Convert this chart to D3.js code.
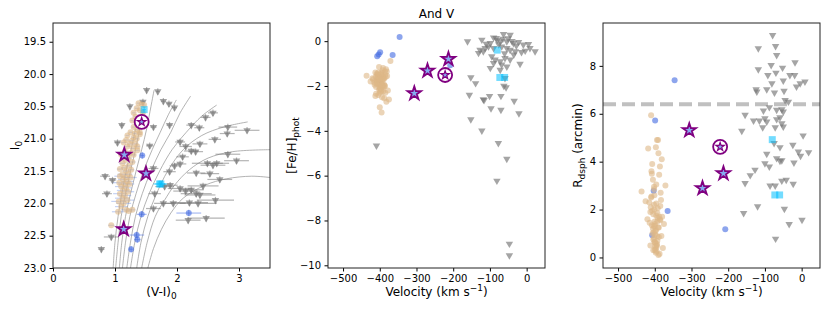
<!DOCTYPE html>
<html>
<head>
<meta charset="utf-8">
<script src="https://cdn.jsdelivr.net/npm/d3@7"></script>
<style>
  body { margin: 0; background: #fff; }
  svg { display: block; font-family: "DejaVu Sans", sans-serif; }
</style>
</head>
<body>
<div id="chart"></div>
<script>
// ---- CMD panel data: [V-I, I, xerr] ----
const isochrones = [
  [[0.97,23],[1.00,22.6],[1.05,22.2],[1.11,21.85],[1.18,21.5],[1.26,21.17],[1.33,20.85]],
  [[1.01,23],[1.05,22.6],[1.10,22.2],[1.17,21.85],[1.25,21.5],[1.33,21.17],[1.40,20.85],[1.46,20.55]],
  [[1.07,23],[1.11,22.6],[1.17,22.2],[1.25,21.85],[1.34,21.5],[1.43,21.17],[1.51,20.85],[1.58,20.5],[1.63,20.25]],
  [[1.12,23],[1.17,22.6],[1.24,22.2],[1.34,21.85],[1.46,21.5],[1.60,21.17],[1.73,20.9],[1.86,20.63],[1.99,20.4]],
  [[1.19,23],[1.25,22.6],[1.33,22.2],[1.44,21.85],[1.58,21.5],[1.74,21.17],[1.90,20.9],[2.05,20.6],[2.22,20.34]],
  [[1.25,23],[1.32,22.6],[1.42,22.2],[1.55,21.85],[1.72,21.5],[1.92,21.17],[2.15,20.9],[2.40,20.65],[2.64,20.48]],
  [[1.35,23],[1.42,22.6],[1.53,22.2],[1.67,21.85],[1.85,21.5],[2.10,21.17],[2.40,20.95],[2.75,20.82],[3.14,20.74]],
  [[1.43,23],[1.52,22.6],[1.65,22.2],[1.80,21.95],[1.96,21.72],[2.20,21.48],[2.50,21.3],[2.90,21.2],[3.50,21.17]],
  [[1.53,23],[1.62,22.7],[1.75,22.4],[1.90,22.15],[2.10,21.92],[2.45,21.72],[2.80,21.62],[3.20,21.58],[3.50,21.6]]
];

const cmdMembers = [
  [1.38,20.45,0.03],[1.43,20.47,0.03],[1.47,20.48,0.03],[1.35,20.53,0.03],[1.40,20.56,0.03],
  [1.30,20.60,0.03],[1.45,20.60,0.03],[1.33,20.66,0.03],[1.37,20.70,0.03],[1.28,20.72,0.03],
  [1.35,20.76,0.03],[1.42,20.78,0.03],[1.30,20.82,0.03],[1.36,20.86,0.03],[1.25,20.90,0.03],
  [1.32,20.92,0.03],[1.40,20.93,0.03],[1.20,20.95,0.03],[1.30,20.98,0.03],[1.35,21.00,0.03],
  [1.18,21.02,0.04],[1.27,21.03,0.04],[1.14,21.06,0.04],[1.24,21.08,0.04],[1.33,21.08,0.04],
  [1.20,21.12,0.04],[1.29,21.15,0.04],[1.36,21.18,0.04],[1.16,21.20,0.04],[1.25,21.22,0.04],
  [1.10,21.25,0.04],[1.30,21.25,0.04],[1.22,21.30,0.05],[1.17,21.33,0.05],[1.28,21.36,0.05],
  [1.12,21.38,0.05],[1.22,21.42,0.05],[1.15,21.45,0.05],[1.08,21.47,0.05],[1.26,21.48,0.05],
  [1.18,21.50,0.06],[1.12,21.55,0.08],[1.22,21.55,0.06],[1.08,21.58,0.09],[1.17,21.60,0.07],
  [1.25,21.60,0.10],[1.13,21.63,0.08],[1.20,21.66,0.09],[1.07,21.68,0.10],[1.15,21.70,0.10],
  [1.23,21.70,0.08],[1.10,21.74,0.10],[1.18,21.76,0.09],[1.13,21.80,0.10],[1.21,21.82,0.10],
  [1.08,21.85,0.11],[1.16,21.88,0.10],[1.12,21.92,0.12],[1.20,21.95,0.11],[1.06,21.97,0.12],
  [1.14,22.00,0.12],[1.10,22.05,0.10],[1.18,22.10,0.08],[1.05,22.13,0.10],[1.22,22.12,0.06],
  [1.28,22.10,0.05],[0.94,22.34,0.05],[1.36,21.12,0.04],[1.40,20.90,0.03]
];

const cmdNonMembers = [
  [1.51,20.25,0.03],[1.69,20.27,0.03],[1.24,20.50,0.03],[1.45,20.43,0.04],[1.78,20.42,0.04],
  [1.87,20.46,0.04],[1.96,20.52,0.04],[1.11,20.79,0.04],[1.62,20.82,0.05],[1.88,20.79,0.05],
  [2.58,20.60,0.08],[2.46,20.67,0.08],[2.23,20.79,0.08],[2.36,20.83,0.08],[2.82,20.82,0.15],
  [3.13,20.87,0.20],[2.81,20.92,0.12],[1.04,21.06,0.05],[1.56,21.11,0.06],[2.05,21.05,0.08],
  [2.14,21.12,0.10],[2.37,21.08,0.12],[2.61,21.01,0.10],[2.09,21.28,0.10],[2.23,21.19,0.12],
  [2.30,21.20,0.12],[1.96,21.42,0.08],[2.05,21.39,0.10],[1.88,21.51,0.10],[1.62,21.46,0.08],
  [0.84,21.58,0.08],[0.96,21.64,0.06],[2.31,21.53,0.15],[2.53,21.54,0.15],[2.82,21.24,0.20],
  [2.96,21.34,0.20],[2.49,21.38,0.25],[2.58,21.41,0.20],[2.64,21.38,0.20],[2.69,21.63,0.20],
  [0.87,21.85,0.08],[1.64,21.85,0.10],[1.80,21.74,0.15],[1.89,21.72,0.12],[2.05,21.77,0.20],
  [2.14,21.81,0.20],[2.23,21.79,0.20],[2.31,21.85,0.25],[2.37,21.87,0.25],[2.42,21.73,0.25],
  [1.78,22.00,0.15],[1.94,22.00,0.20],[2.20,21.99,0.30],[2.34,22.00,0.30],[2.62,21.95,0.30],
  [2.47,22.23,0.30],[2.18,22.26,0.20],[1.62,22.08,0.12],[0.94,22.52,0.12],[0.78,22.71,0.05]
];

const cmdBlue = [[1.44,21.26,0.03],[1.43,22.17,0.08],[1.35,22.49,0.12],[1.36,22.56,0.05],[1.26,22.71,0.03],[2.19,22.15,0.20]];
const cmdCyan = [[1.47,20.55,0.03],[1.74,21.70,0.10],[1.72,21.70,0.10]];
const magErr = 0.05;

// ---- kinematics ----
const memberVel = [
  -398,-405,-392,-410,-385,-401,-395,-412,-388,-403,
  -397,-380,-415,-400,-390,-408,-394,-402,-386,-399,
  -411,-396,-404,-389,-407,-393,-400,-383,-414,-398,
  -391,-406,-402,-387,-396,-409,-399,-384,-403,-394,
  -418,-392,-401,-378,-405,-397,-389,-410,-400,-395,
  -386,-407,-393,-402,-399,-381,-412,-396,-404,-390,
  -408,-398,-385,-401,-394,-420,-375,-436,-400,-395,
  -371,-382,-425,-388,-404,-397,-391,-409,-402,-393];
const memberFeh = [
  -1.75,-1.90,-1.60,-2.05,-1.50,-1.80,-2.20,-1.40,-1.95,-1.70,
  -2.10,-1.55,-1.85,-2.30,-1.65,-1.45,-2.00,-1.75,-1.35,-2.15,
  -1.60,-1.90,-2.40,-1.70,-1.50,-1.85,-2.05,-1.25,-1.95,-1.65,
  -2.25,-1.80,-1.55,-2.00,-1.40,-1.75,-2.10,-1.60,-1.90,-2.50,
  -1.70,-1.30,-1.85,-2.20,-1.50,-1.95,-1.65,-2.35,-1.80,-1.45,
  -2.00,-1.70,-1.55,-2.15,-1.90,-1.35,-2.45,-1.75,-1.60,-2.05,
  -1.85,-1.50,-2.30,-1.70,-1.95,-1.65,-2.60,-1.54,-2.95,-3.18,
  -0.88,-2.70,-1.80,-2.55,-1.40,-2.25,-1.20,-1.90,-1.15,-2.00];
const memberRad = [
  0.35,1.20,2.05,5.94,1.55,2.60,0.50,1.90,3.45,1.05,
  0.20,1.70,2.30,0.65,4.35,1.35,0.90,2.85,1.60,0.45,
  2.10,3.05,0.75,1.25,3.90,1.85,0.30,2.40,1.45,0.60,
  4.90,1.00,2.20,0.15,1.75,3.60,0.95,2.70,1.30,0.55,
  4.55,1.65,2.00,0.40,3.25,1.15,0.85,2.50,1.50,0.25,
  3.80,1.95,0.70,2.95,1.40,4.10,0.50,2.25,1.80,0.10,
  3.50,1.10,2.15,0.65,4.90,1.60,1.40,2.75,1.30,0.45,
  3.00,0.90,2.35,1.70,0.30,4.60,1.25,2.55,0.80,1.50];

const blueVel = [-346, -407, -399, -403, -365, -208];
const blueFeh = [0.19, -0.67, -0.50, -0.59, -0.62, -1.07];
const blueRad = [7.40, 0.93, 5.72, 2.79, 1.94, 1.18];

const cyanVel = [-80, -73, -60];
const cyanFeh = [-0.40, -1.62, -1.62];
const cyanRad = [4.92, 2.61, 2.61];

// stars of interest; last one is the circled star
const starVel = [-213, -270, -306, -222];
const starFeh = [-0.80, -1.32, -2.33, -1.51];
const starRad = [3.51, 2.89, 5.31, 4.62];
const starVI = [1.50, 1.15, 1.14, 1.43];
const starMag = [21.54, 21.25, 22.40, 20.74];
const circledStar = 3;

const nonMemVelFeh = [
  [-161,-0.01],[-122,0.06],[-90,0.16],[-63,0.31],[-45,0.28],[-83,0.13],[-72,-0.01],[-99,-0.09],
  [-54,-0.01],[-36,-0.09],[-22,-0.04],[-9,-0.16],[5,-0.13],[9,-0.31],[23,-0.46],[-127,-0.39],
  [-113,-0.31],[-104,-0.24],[-90,-0.31],[-68,-0.24],[-54,-0.31],[-45,-0.39],[-31,-0.46],[-14,-0.49],
  [-4,-0.43],[-131,-0.53],[-118,-0.46],[-95,-0.68],[-86,-0.83],[-72,-0.90],[-59,-0.76],[-45,-0.83],
  [-90,-0.98],[-18,-1.02],[-68,-1.05],[-99,-1.20],[-72,-1.28],[-54,-1.14],[-80,0.05],[-65,0.10],
  [-50,0.12],[-40,0.00],[-28,-0.20],[-76,-0.15],[-110,-0.12],[-60,-0.55],[-35,-0.60],
  [-152,-1.62],[-139,-1.88],[-59,-1.65],[-56,-2.06],[-62,-2.00],[-156,-2.40],[-118,-2.60],
  [-116,-2.63],[-101,-2.45],[-70,-2.45],[-34,-2.67],[-97,-3.00],[-70,-3.07],[-21,-3.22],
  [-152,-3.49],[-122,-3.99],[-77,-4.55],[-54,-5.25],[-81,-6.23],[-47,-9.04],[-47,-9.56],[-409,-4.66]
];

const nonMemVelRad = [
  [-79,9.28],[-71,8.82],[-118,8.73],[-68,8.45],[-18,8.14],[-83,8.03],[-52,7.92],[-118,7.85],
  [-92,7.61],[-70,7.71],[-32,7.61],[-19,7.61],[-50,7.38],[9,7.34],[-4,7.27],[-81,7.27],
  [-124,7.02],[-95,7.02],[-14,7.13],[-48,6.95],[-122,6.92],[-74,6.88],[-45,6.57],[-36,6.50],
  [-88,6.27],[-54,6.18],[-104,6.13],[-68,6.16],[-50,6.09],[-154,5.95],[-100,5.81],[-59,5.85],
  [-131,5.71],[-115,5.71],[-95,5.67],[-68,5.77],[-54,5.60],[-106,5.43],[-72,5.43],[-50,5.46],
  [-163,5.28],[4,5.09],[-75,4.77],[-59,4.60],[-24,4.70],[-95,4.32],[-9,4.42],[19,4.39],
  [-68,4.14],[-59,4.03],[-54,4.05],[-3,4.24],[-100,3.93],[-21,3.96],[-88,3.79],[-127,3.66],
  [-140,3.43],[-154,3.10],[-86,3.00],[-72,3.00],[-54,3.20],[-42,3.24],[-23,3.07],[-120,2.13],
  [-158,1.85],[-47,2.03],[-34,1.39],[1,1.57],[-71,0.78]
];

const radiusCut = 6.4;
const velTicks = [-500, -400, -300, -200, -100, 0];
const colorTicks = [0, 1, 2, 3];
const magTicks = [19.5, 20.0, 20.5, 21.0, 21.5, 22.0, 22.5, 23.0];
const fehTicks = [0, -2, -4, -6, -8, -10];
const radTicks = [0, 2, 4, 6, 8];

// ---- layout ----
const width = 830, height = 312;
const plotTop = 23, plotBottom = 268;
const memberColor = "#deb887", blueColor = "#4169e1", grayColor = "#747474",
      cyanColor = "#00bfff", starEdge = "#800080", starFill = "#86aaf0";

const svg = d3.select("#chart").append("svg")
    .attr("width", width)
    .attr("height", height);

function panel(x0, x1, xDomain, yDomain, id) {
  const x = d3.scaleLinear().domain(xDomain).range([x0, x1]);
  const y = d3.scaleLinear().domain(yDomain).range([plotTop, plotBottom]);
  const g = svg.append("g");
  svg.append("clipPath").attr("id", id)
    .append("rect").attr("x", x0).attr("y", plotTop).attr("width", x1 - x0).attr("height", plotBottom - plotTop);
  const plot = g.append("g").attr("clip-path", `url(#${id})`);
  return {x, y, g, plot, x0, x1};
}

function axes(p, xTicks, yTicks, xFmt, yFmt) {
  p.g.append("g")
      .attr("transform", `translate(0,${plotBottom})`)
      .call(d3.axisBottom(p.x).tickValues(xTicks).tickFormat(xFmt).tickSize(3.5).tickPadding(3.5))
      .call(s => s.select(".domain").remove())
      .attr("font-family", "DejaVu Sans").attr("font-size", 10);
  p.g.append("g")
      .attr("transform", `translate(${p.x0},0)`)
      .call(d3.axisLeft(p.y).tickValues(yTicks).tickFormat(yFmt).tickSize(3.5).tickPadding(3.5))
      .call(s => s.select(".domain").remove())
      .attr("font-family", "DejaVu Sans").attr("font-size", 10);
  p.g.append("rect")
      .attr("x", p.x0).attr("y", plotTop)
      .attr("width", p.x1 - p.x0).attr("height", plotBottom - plotTop)
      .attr("fill", "none").attr("stroke", "#222").attr("stroke-width", 1);
}

const triangle = d3.symbol(d3.symbolTriangle, 24)();
const star = d3.symbol(d3.symbolStar, 56)();
const smallStar = d3.symbol(d3.symbolStar, 22)();

function drawTriangles(p, data, fx, fy) {
  p.plot.append("g").selectAll("path").data(data).join("path")
      .attr("d", triangle)
      .attr("transform", d => `translate(${p.x(fx(d))},${p.y(fy(d))}) rotate(180)`)
      .attr("fill", grayColor).attr("fill-opacity", 0.65);
}

function drawCircles(p, data, fx, fy, color, r, op) {
  p.plot.append("g").selectAll("circle").data(data).join("circle")
      .attr("cx", d => p.x(fx(d))).attr("cy", d => p.y(fy(d)))
      .attr("r", r).attr("fill", color).attr("fill-opacity", op);
}

function drawSquares(p, data, fx, fy) {
  p.plot.append("g").selectAll("rect").data(data).join("rect")
      .attr("x", d => p.x(fx(d)) - 3.5).attr("y", d => p.y(fy(d)) - 3.5)
      .attr("width", 7).attr("height", 7)
      .attr("fill", cyanColor).attr("fill-opacity", 0.55);
}

function drawStars(p, idx, fx, fy) {
  const g = p.plot.append("g");
  idx.forEach(i => {
    const cx = p.x(fx(i)), cy = p.y(fy(i));
    if (i === circledStar) {
      g.append("circle").attr("cx", cx).attr("cy", cy).attr("r", 7)
          .attr("fill", "#fff").attr("stroke", starEdge).attr("stroke-width", 1.8);
      g.append("path").attr("d", smallStar).attr("transform", `translate(${cx},${cy})`)
          .attr("fill", starFill).attr("stroke", starEdge).attr("stroke-width", 1.2);
    } else {
      g.append("path").attr("d", star).attr("transform", `translate(${cx},${cy})`)
          .attr("fill", starFill).attr("stroke", starEdge).attr("stroke-width", 1.8)
          .attr("stroke-linejoin", "miter");
    }
  });
}

function errorBars(p, data, color, op, yerr) {
  const g = p.plot.append("g").attr("stroke", color).attr("stroke-opacity", op).attr("stroke-width", 1.2);
  g.selectAll("line.xe").data(data).join("line").attr("class", "xe")
      .attr("x1", d => p.x(d[0] - d[2])).attr("x2", d => p.x(d[0] + d[2]))
      .attr("y1", d => p.y(d[1])).attr("y2", d => p.y(d[1]));
  if (yerr) {
    g.selectAll("line.ye").data(data).join("line").attr("class", "ye")
        .attr("x1", d => p.x(d[0])).attr("x2", d => p.x(d[0]))
        .attr("y1", d => p.y(d[1] - yerr)).attr("y2", d => p.y(d[1] + yerr));
  }
}

function xLabel(p, parts) {
  const t = svg.append("text").attr("x", (p.x0 + p.x1) / 2).attr("y", 296)
      .attr("text-anchor", "middle").attr("font-size", 12);
  parts(t);
}
function yLabel(xb, parts) {
  const t = svg.append("text")
      .attr("transform", `translate(${xb},${(plotTop + plotBottom) / 2}) rotate(-90)`)
      .attr("text-anchor", "middle").attr("font-size", 12);
  parts(t);
}

// ---- panel 1: CMD ----
const p1 = panel(53, 270, [0, 3.5], [19.21, 23.0], "clip1");
const line = d3.line().x(d => p1.x(d[0])).y(d => p1.y(d[1])).curve(d3.curveCatmullRom.alpha(0.5));
p1.plot.append("g").selectAll("path").data(isochrones).join("path")
    .attr("d", line).attr("fill", "none").attr("stroke", "#9a9a9a")
    .attr("stroke-opacity", 0.75).attr("stroke-width", 1);
errorBars(p1, cmdNonMembers, "#777", 0.55, magErr);
drawTriangles(p1, cmdNonMembers, d => d[0], d => d[1]);
errorBars(p1, cmdBlue, blueColor, 0.45, magErr);
drawCircles(p1, cmdBlue, d => d[0], d => d[1], blueColor, 3, 0.6);
errorBars(p1, cmdMembers, "#6f8fe0", 0.4, 0);
drawCircles(p1, cmdMembers, d => d[0], d => d[1], memberColor, 3, 0.6);
errorBars(p1, cmdCyan, cyanColor, 0.5, magErr);
drawSquares(p1, cmdCyan, d => d[0], d => d[1]);
drawStars(p1, [0, 1, 2, 3], i => starVI[i], i => starMag[i]);
axes(p1, colorTicks, magTicks, d3.format("d"), d3.format(".1f"));
xLabel(p1, t => { t.append("tspan").text("(V-I)"); t.append("tspan").attr("dy", 3).attr("font-size", 9).text("0"); });
yLabel(19, t => { t.append("tspan").text("I"); t.append("tspan").attr("dy", 3).attr("font-size", 9).text("0"); });

// ---- panel 2: velocity vs [Fe/H] ----
const p2 = panel(328, 545, [-541, 50], [0.81, -10.12], "clip2");
const idxMem = d3.range(memberVel.length);
drawTriangles(p2, nonMemVelFeh, d => d[0], d => d[1]);
drawCircles(p2, d3.range(blueVel.length), i => blueVel[i], i => blueFeh[i], blueColor, 3, 0.6);
drawCircles(p2, idxMem, i => memberVel[i], i => memberFeh[i], memberColor, 3, 0.6);
drawSquares(p2, d3.range(cyanVel.length), i => cyanVel[i], i => cyanFeh[i]);
drawStars(p2, [0, 1, 2, 3], i => starVel[i], i => starFeh[i]);
axes(p2, velTicks, fehTicks, d3.format("d"), d3.format("d"));
svg.append("text").attr("x", 436.5).attr("y", 18).attr("text-anchor", "middle")
    .attr("font-size", 12).text("And V");
xLabel(p2, t => {
  t.append("tspan").text("Velocity (km s");
  t.append("tspan").attr("dy", -5).attr("font-size", 9).text("\u22121");
  t.append("tspan").attr("dy", 5).text(")");
});
yLabel(296, t => { t.append("tspan").text("[Fe/H]"); t.append("tspan").attr("dy", 3).attr("font-size", 9).text("phot"); });

// ---- panel 3: velocity vs radius ----
const p3 = panel(603, 820, [-541, 50], [9.79, -0.44], "clip3");
p3.plot.append("line")
    .attr("x1", p3.x0).attr("x2", p3.x1)
    .attr("y1", p3.y(radiusCut)).attr("y2", p3.y(radiusCut))
    .attr("stroke", "#c0c0c0").attr("stroke-width", 4).attr("stroke-dasharray", "13,6");
drawTriangles(p3, nonMemVelRad, d => d[0], d => d[1]);
drawCircles(p3, d3.range(blueVel.length), i => blueVel[i], i => blueRad[i], blueColor, 3, 0.6);
drawCircles(p3, idxMem, i => memberVel[i], i => memberRad[i], memberColor, 3, 0.6);
drawSquares(p3, d3.range(cyanVel.length), i => cyanVel[i], i => cyanRad[i]);
drawStars(p3, [0, 1, 2, 3], i => starVel[i], i => starRad[i]);
axes(p3, velTicks, radTicks, d3.format("d"), d3.format("d"));
xLabel(p3, t => {
  t.append("tspan").text("Velocity (km s");
  t.append("tspan").attr("dy", -5).attr("font-size", 9).text("\u22121");
  t.append("tspan").attr("dy", 5).text(")");
});
yLabel(582, t => {
  t.append("tspan").text("R");
  t.append("tspan").attr("dy", 3).attr("font-size", 9).text("dsph");
  t.append("tspan").attr("dy", -3).text(" (arcmin)");
});
</script>
</body>
</html>
